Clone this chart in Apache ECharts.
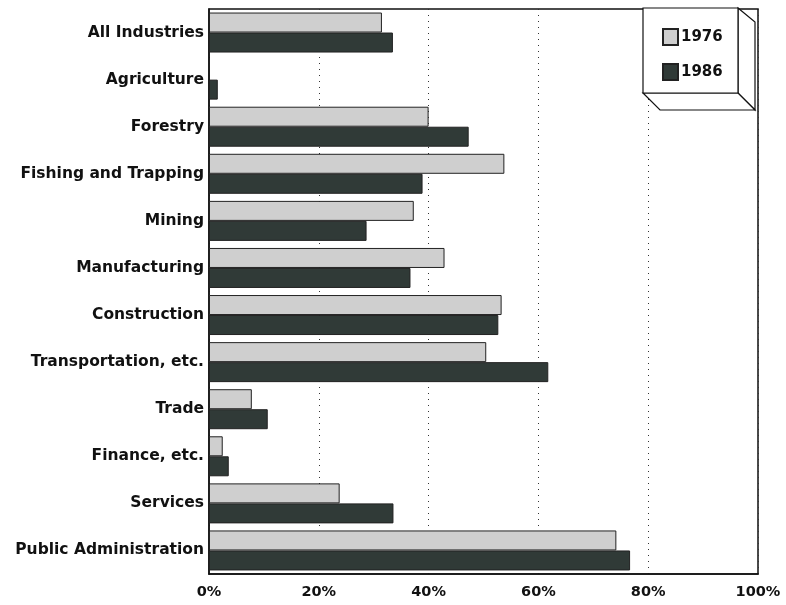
<!DOCTYPE html>
<html><head><meta charset="utf-8">
<script src="https://cdn.jsdelivr.net/npm/echarts@6/dist/echarts.min.js"></script>
<style>html,body{margin:0;padding:0;background:#fff}#c{width:786px;height:605px}</style>
</head><body><div id="c"></div>
<script>
const categories = ['All Industries','Agriculture','Forestry','Fishing and Trapping','Mining','Manufacturing','Construction','Transportation, etc.','Trade','Finance, etc.','Services','Public Administration'];
const values1976 = [31.5, 0, 40, 53.8, 37.3, 42.9, 53.3, 50.5, 7.8, 2.5, 23.8, 74.2];
const values1986 = [33.5, 1.6, 47.3, 38.9, 28.7, 36.7, 52.7, 61.8, 10.7, 3.6, 33.6, 76.7];
const seriesNames = ['1976', '1986'];
const xTicks = [0, 20, 40, 60, 80, 100];

const chart = echarts.init(document.getElementById('c'));
const font = '"DejaVu Sans", Arial, sans-serif';
chart.setOption({
  animation: false,
  backgroundColor: '#fff',
  grid: {left: 209, right: 28, top: 9, bottom: 31, show: true, borderColor: '#111', borderWidth: 1.5, containLabel: false},
  xAxis: {
    type: 'value', min: xTicks[0], max: xTicks[xTicks.length-1], interval: 20,
    axisLine: {show: true, lineStyle: {color: '#111', width: 1.5}},
    axisTick: {show: false},
    axisLabel: {formatter: v => v + '%', color: '#111', fontFamily: font, fontWeight: 'bold', fontSize: 14.5, margin: 11},
    splitLine: {show: true, lineStyle: {color: '#333', type: [1, 5], width: 1}}
  },
  yAxis: {
    type: 'category', data: categories, inverse: true,
    axisLine: {show: true, lineStyle: {color: '#111', width: 1.5}},
    axisTick: {show: false},
    axisLabel: {color: '#111', fontFamily: font, fontWeight: 'bold', fontSize: 15.5, margin: 5}
  },
  legend: {
    orient: 'vertical', left: 657, top: 23, itemWidth: 15, itemHeight: 16, itemGap: 17, icon: 'rect',
    textStyle: {color: '#111', fontFamily: font, fontWeight: 'bold', fontSize: 15, padding: [0,0,0,-2]},
    data: seriesNames, z: 20
  },
  graphic: [
    {type: 'polygon', z: 10, shape: {points: [[738,8],[755,22],[755,110],[738,93]]}, style: {fill: '#fff', stroke: '#111', lineWidth: 1.2}},
    {type: 'polygon', z: 10, shape: {points: [[643,93],[660,110],[755,110],[738,93]]}, style: {fill: '#fff', stroke: '#111', lineWidth: 1.2}},
    {type: 'rect', z: 10, shape: {x: 643, y: 8, width: 95, height: 85}, style: {fill: '#fff', stroke: '#111', lineWidth: 1.2}}
  ],
  series: [
    {name: seriesNames[0], type: 'bar', data: values1976, barWidth: 20, barGap: '0%',
     itemStyle: {color: '#cfcfcf', borderColor: '#222', borderWidth: 1}},
    {name: seriesNames[1], type: 'bar', data: values1986, barWidth: 20, barGap: '0%',
     itemStyle: {color: '#303a37', borderColor: '#222', borderWidth: 1}}
  ]
});
</script></body></html>
